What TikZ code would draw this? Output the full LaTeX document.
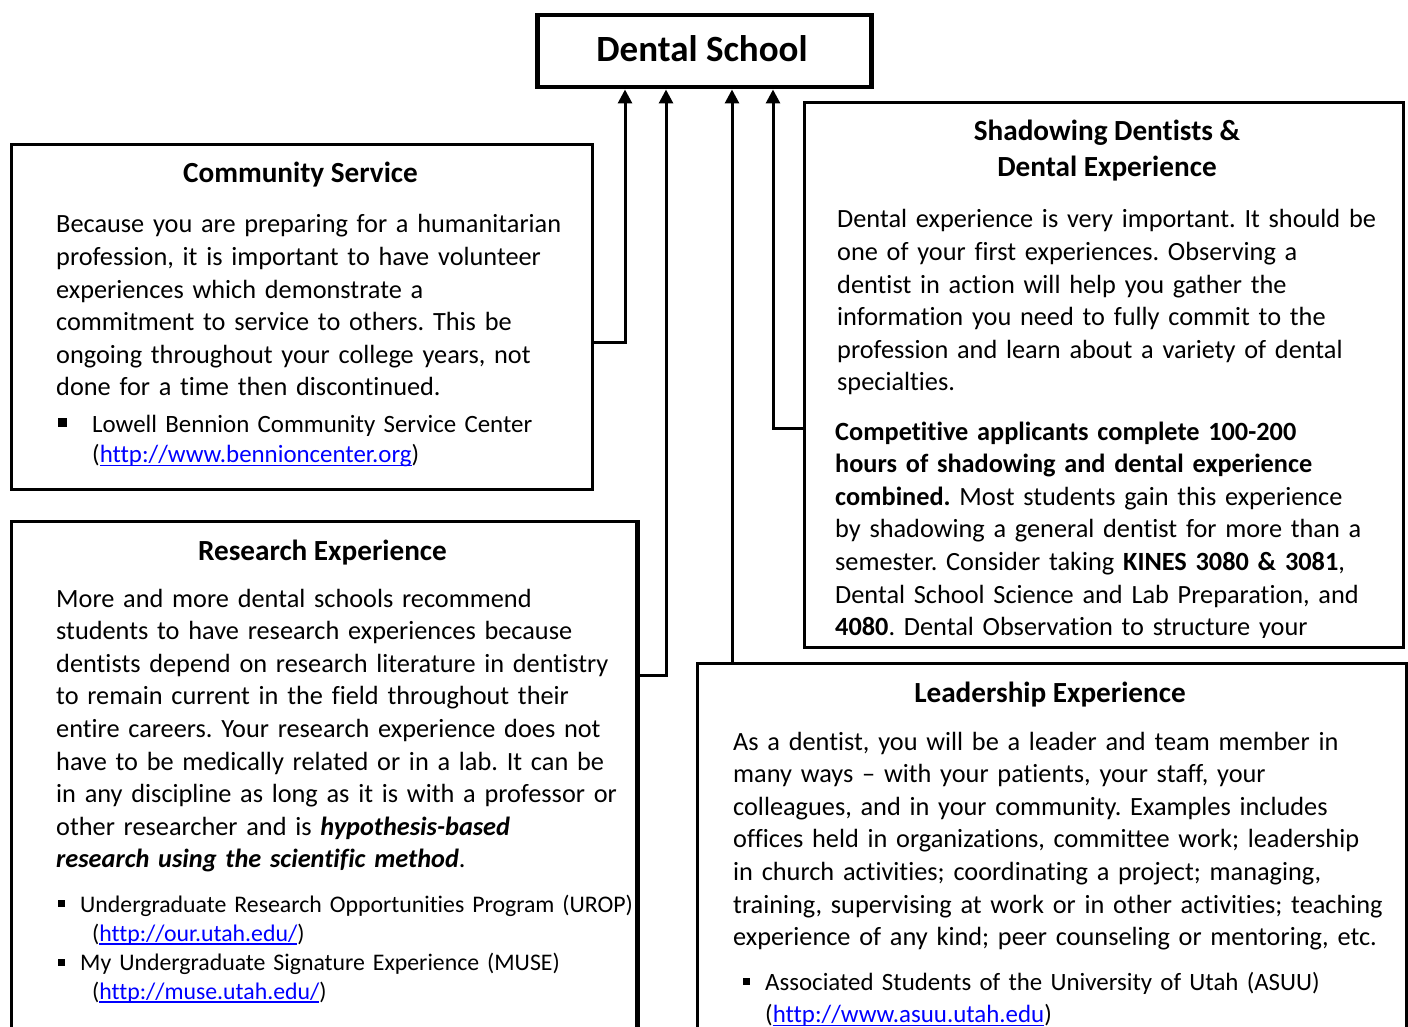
\documentclass[tikz,border=0pt]{standalone}
\usepackage{fontspec}
\setmainfont{Carlito}[Ligatures={NoCommon}]
\usetikzlibrary{arrows.meta,calc}
\definecolor{linkblue}{RGB}{0,0,255}
\frenchspacing
\newcommand\ulk[1]{\begingroup\color{linkblue}\setbox0\hbox{#1}\rlap{\rule[-3.5pt]{\wd0}{1.4pt}}\box0\endgroup}
\tikzset{
  box/.style={draw=black, line width=3pt, fill=white, inner sep=0pt, anchor=north west},
  conn/.style={draw=black, line width=3pt, -{Triangle[length=14pt,width=14pt]}},
  ttl/.style={font=\fontsize{29.2}{36}\selectfont\bfseries, inner sep=0pt, anchor=base, align=center},
  body/.style={font=\fontsize{26.3}{32.6}\selectfont\frenchspacing, inner sep=0pt, anchor=base west, text width=700pt, align=left},
  bitem/.style={font=\fontsize{24.9}{30.5}\selectfont\frenchspacing, inner sep=0pt, anchor=base west, text width=700pt, align=left},
  bul/.style={fill=black, inner sep=0pt, minimum size=8pt},
}
\begin{document}
\begin{tikzpicture}[x=1pt,y=-1pt]
\path[use as bounding box] (0,0) rectangle (1408,1027);
\clip (0,0) rectangle (1408,1027);

% Dental School
\node[box, line width=4.5pt, minimum width=334pt, minimum height=72pt] (dental) at (535,13) {};
\node[ttl, font=\fontsize{37}{42}\selectfont\bfseries] (dentalt) at (702,62) {Dental School};

% Community Service
\node[box, minimum width=581pt, minimum height=345pt] (comm) at (10,143) {};
\node[ttl] (commt) at (300.5,183) {Community Service};
\node[body] (commb) at (56,233) {Because you are preparing for a humanitarian\\
profession, it is important to have volunteer\\
experiences which demonstrate a\\
commitment to service to others. This be\\
ongoing throughout your college years, not\\
done for a time then discontinued.};
\node[bul, minimum size=9pt] (commbul) at (62.5,422) {};
\node[bitem] (commi) at (92,432) {Lowell Bennion Community Service Center\\
(\ulk{http://www.bennioncenter.org})};

% Research Experience
\node[box, minimum width=625pt, minimum height=540pt] (research) at (10,520) {};
\node[ttl] (researcht) at (322.5,560) {Research Experience};
\node[body] (researchb) at (56,607) {More and more dental schools recommend\\
students to have research experiences because\\
dentists depend on research literature in dentistry\\
to remain current in the field throughout their\\
entire careers. Your research experience does not\\
have to be medically related or in a lab. It can be\\
in any discipline as long as it is with a professor or\\
other researcher and is \textbf{\textit{hypothesis-based}}\\
\textbf{\textit{research using the scientific method}}.};
\node[bul, minimum size=7pt] (resbul1) at (61.5,903) {};
\node[bitem, font=\fontsize{23.8}{29.3}\selectfont\frenchspacing] (resi1) at (80,912) {Undergraduate Research Opportunities Program (UROP)\\
\hspace*{12pt}(\ulk{http://our.utah.edu/})};
\node[bul, minimum size=7pt] (resbul2) at (61.5,962) {};
\node[bitem, font=\fontsize{23.8}{29.3}\selectfont\frenchspacing] (resi2) at (80,970) {My Undergraduate Signature Experience (MUSE)\\
\hspace*{12pt}(\ulk{http://muse.utah.edu/})};
\draw[line width=3pt] (research.north east) -- (research.south east);

% Shadowing
\node[box, minimum width=599pt, minimum height=545pt] (shadow) at (803,101) {};
\begin{scope}
\clip (805,103) rectangle (1401,637);
\node[ttl] (shadowt1) at (1107,141) {Shadowing Dentists \&};
\node[ttl] (shadowt2) at (1107,177) {Dental Experience};
\node[body] (shadowb) at (837,228) {Dental experience is very important. It should be\\
one of your first experiences. Observing a\\
dentist in action will help you gather the\\
information you need to fully commit to the\\
profession and learn about a variety of dental\\
specialties.};
\node[body] (shadowc) at (835,440) {\textbf{Competitive applicants complete 100-200}\\
\textbf{hours of shadowing and dental experience}\\
\textbf{combined.} Most students gain this experience\\
by shadowing a general dentist for more than a\\
semester. Consider taking \textbf{KINES 3080 \& 3081},\\
Dental School Science and Lab Preparation, and\\
\textbf{4080}. Dental Observation to structure your};
\end{scope}

% Leadership
\node[box, minimum width=709pt, minimum height=420pt] (lead) at (696,662) {};
\node[ttl] (leadt) at (1050,702) {Leadership Experience};
\node[body] (leadb) at (733,750) {As a dentist, you will be a leader and team member in\\
many ways – with your patients, your staff, your\\
colleagues, and in your community. Examples includes\\
offices held in organizations, committee work; leadership\\
in church activities; coordinating a project; managing,\\
training, supervising at work or in other activities; teaching\\
experience of any kind; peer counseling or mentoring, etc.};
\node[bul, minimum size=7pt] (leadbul) at (746.5,981) {};
\node[bitem, font=\fontsize{24.9}{32.5}\selectfont\frenchspacing] (leadi) at (765,990) {Associated Students of the University of Utah (ASUU)\\
(\ulk{http://www.asuu.utah.edu})};

% Connectors
\draw[conn] (comm.east |- 0,342) -| (dental.south -| 625,0);
\draw[conn] (research.east |- 0,675) -| (dental.south -| 666,0);
\draw[conn] (lead.north -| 732,0) -- (dental.south -| 732,0);
\draw[conn] (shadow.west |- 0,428) -| (dental.south -| 773,0);
\end{tikzpicture}
\end{document}
